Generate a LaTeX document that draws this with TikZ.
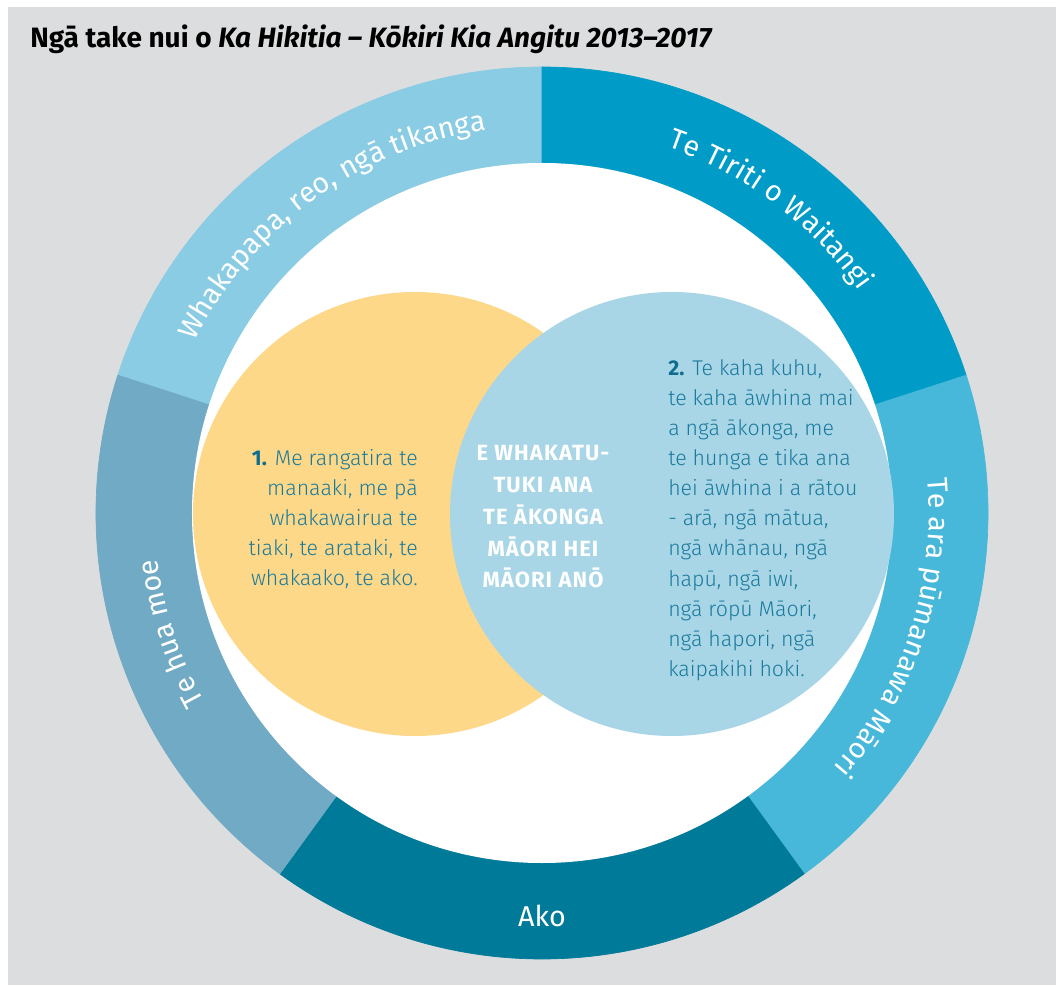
\documentclass[tikz,border=0pt]{standalone}
\usepackage{fontspec}
\setmainfont{Fira Sans}
\newfontfamily\lightfont{Fira Sans Light}
\usetikzlibrary{decorations.text,calc,positioning}

\definecolor{bggrey}{HTML}{DCDDDF}
\definecolor{whcol}{HTML}{8ACCE3}
\definecolor{ttcol}{HTML}{009CC7}
\definecolor{tapcol}{HTML}{47B8D9}
\definecolor{akocol}{HTML}{007A99}
\definecolor{thmcol}{HTML}{70AAC4}
\definecolor{yel}{HTML}{FDD888}
\definecolor{lblue}{HTML}{A8D6E7}
\definecolor{tealtext}{HTML}{1A7A9C}
\definecolor{numteal}{HTML}{0E6C8E}

\newcommand{\ringfont}{\fontsize{21.5}{26}\selectfont}
\newcommand{\itemno}[1]{{\rmfamily\bfseries\color{numteal}#1}}

\tikzset{
  seg/.style={fill=#1,draw=#1,line width=0.5},
  disc/.style={fill=#1,draw=none},
  ringlabel/.style={decorate,decoration={text along path,text align=center,
    text color=white,text={|\ringfont|#1}}},
  bodytext/.style={inner sep=0pt,text=tealtext,
    font=\lightfont\fontsize{16}{22.6}\selectfont},
  midtext/.style={inner sep=0pt,text=white,align=center,
    font=\bfseries\addfontfeatures{LetterSpace=5}\fontsize{16.5}{23.8}\selectfont}
}

\begin{document}
\begin{tikzpicture}[x=0.75pt,y=0.75pt]
  \useasboundingbox (-542,513) rectangle (514,-472);
  \fill[white] (-542,513) rectangle (514,-472);
  \fill[bggrey] (-534,506) rectangle (514,-472);

  \node[anchor=base west,inner sep=0pt,font=\bfseries\fontsize{21}{25}\selectfont] (title) at (-512,465)
    {Ngā take nui o \textit{Ka Hikitia – Kōkiri Kia Angitu 2013–2017}};

  \coordinate (c) at (0,0);
  \coordinate (y) at (-127,-1);
  \coordinate (b) at (130,-1);

  \foreach \a/\b/\c in {90/162/whcol,18/90/ttcol,-54/18/tapcol,-126/-54/akocol,-198/-126/thmcol}
    \fill[seg=\c] (\a:446) arc[start angle=\a,end angle=\b,radius=446]
      -- (\b:350) arc[start angle=\b,end angle=\a,radius=350] -- cycle;

  \path[ringlabel={Whakapapa, reo, ngā tikanga}] (162:387) arc[start angle=162,end angle=90,radius=387];
  \path[ringlabel={Te Tiriti o Waitangi}] (89:387) arc[start angle=89,end angle=17,radius=387];
  \path[ringlabel={Te ara pūmanawa Māori}] (18:387) arc[start angle=18,end angle=-54,radius=387];
  \path[ringlabel={Te hua moe}] (234:387) arc[start angle=234,end angle=162,radius=387];
  \node[inner sep=0pt,text=white,font=\ringfont] (ako) at (0,-403) {Ako};

  \fill[disc=white] (c) circle[radius=350];
  \fill[disc=yel] (y) circle[radius=222];
  \fill[disc=lblue] (b) circle[radius=222];

  \node[bodytext,align=right,anchor=east] (t1) at (-124,-6)
    {\itemno{1.} Me rangatira te\\manaaki, me pā\\whakawairua te\\tiaki, te arataki, te\\whakaako, te ako.};
  \node[bodytext,align=left,anchor=west] (t2) at (126,-7)
    {\itemno{2.} Te kaha kuhu,\\te kaha āwhina mai\\a ngā ākonga, me\\te hunga e tika ana\\hei āwhina i a rātou\\- arā, ngā mātua,\\ngā whānau, ngā\\hapū, ngā iwi,\\ngā rōpū Māori,\\ngā hapori, ngā\\kaipakihi hoki.};
  \node[midtext] (goal) at (1,-4)
    {E WHAKATU-\\TUKI ANA\\TE ĀKONGA\\MĀORI HEI\\MĀORI ANŌ};
\end{tikzpicture}
\end{document}
